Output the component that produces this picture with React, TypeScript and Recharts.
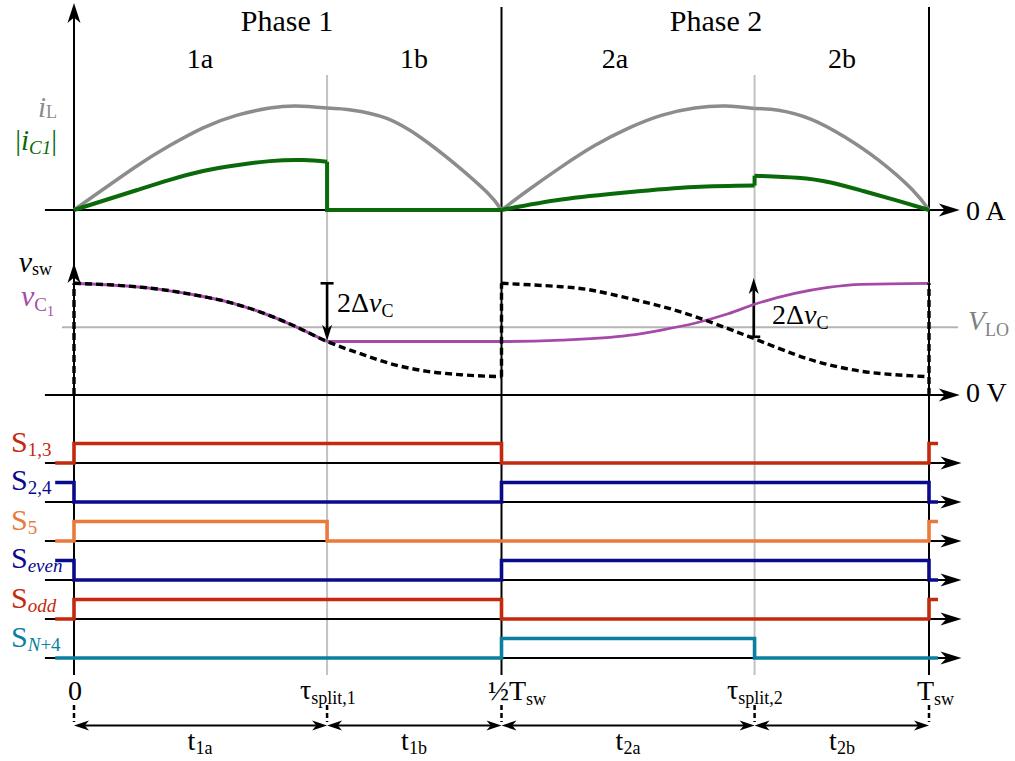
import React from 'react';
import { ComposedChart, Line, XAxis, YAxis, ReferenceLine } from 'recharts';

const W = 1015;
const H = 761;
const X0 = 74; // px of t = 0
const PX_T = 855; // px per Tsw

// time instants, as a fraction of Tsw
const T_SPLIT_1 = 0.296;
const T_HALF = 0.5;
const T_SPLIT_2 = 0.796;
const T_SW = 1;
const T_PRE = -0.022;
const T_POST = 1.0105;
const T_AX_START = -0.034;
const T_AX_END = 1.036;

// inductor current i_L (normalised to its peak)
const iL1a = [
  { t: 0, v: 0 }, { t: 0.073, v: 0.42 }, { t: 0.112, v: 0.62 }, { t: 0.151, v: 0.79 },
  { t: 0.19, v: 0.91 }, { t: 0.229, v: 0.98 }, { t: 0.26, v: 1.0 }, { t: 0.296, v: 0.98 },
];
const iL1b = [
  { t: 0.296, v: 0.98 }, { t: 0.326, v: 0.96 }, { t: 0.366, v: 0.88 }, { t: 0.405, v: 0.7 },
  { t: 0.443, v: 0.46 }, { t: 0.483, v: 0.17 }, { t: 0.5, v: 0 },
];
const iL2a = [
  { t: 0.5, v: 0 }, { t: 0.531, v: 0.19 }, { t: 0.57, v: 0.415 }, { t: 0.609, v: 0.62 },
  { t: 0.648, v: 0.785 }, { t: 0.687, v: 0.91 }, { t: 0.726, v: 0.98 }, { t: 0.762, v: 1.0 },
  { t: 0.796, v: 0.975 },
];
const iL2b = [
  { t: 0.796, v: 0.975 }, { t: 0.824, v: 0.96 }, { t: 0.863, v: 0.87 }, { t: 0.902, v: 0.7 },
  { t: 0.941, v: 0.48 }, { t: 0.98, v: 0.2 }, { t: 1.0, v: 0 },
];

// |i_C1|
const iC1a = [
  { t: 0, v: 0 }, { t: 0.073, v: 0.19 }, { t: 0.112, v: 0.29 }, { t: 0.151, v: 0.375 },
  { t: 0.19, v: 0.43 }, { t: 0.229, v: 0.47 }, { t: 0.268, v: 0.48 }, { t: 0.296, v: 0.465 },
];
const iC1b = [{ t: 0.296, v: 0.465 }, { t: 0.296, v: 0 }, { t: 0.5, v: 0 }];
const iC2a = [
  { t: 0.5, v: 0 }, { t: 0.57, v: 0.1 }, { t: 0.648, v: 0.17 }, { t: 0.726, v: 0.22 }, { t: 0.796, v: 0.235 },
];
const iC2step = [{ t: 0.796, v: 0.235 }, { t: 0.796, v: 0.33 }];
const iC2b = [
  { t: 0.796, v: 0.33 }, { t: 0.846, v: 0.31 }, { t: 0.885, v: 0.265 }, { t: 0.924, v: 0.18 },
  { t: 0.963, v: 0.09 }, { t: 1.0, v: 0 },
];

// voltages, in units of V_LO
const v1aShared = [
  { t: 0, v: 1.65 }, { t: 0.062, v: 1.61 }, { t: 0.101, v: 1.56 }, { t: 0.14, v: 1.48 },
  { t: 0.178, v: 1.38 }, { t: 0.217, v: 1.23 }, { t: 0.256, v: 1.03 }, { t: 0.296, v: 0.79 },
];
const vsw1b = [
  { t: 0.296, v: 0.79 }, { t: 0.335, v: 0.61 }, { t: 0.374, v: 0.45 }, { t: 0.413, v: 0.35 },
  { t: 0.452, v: 0.3 }, { t: 0.5, v: 0.27 },
];
const vsw2 = [
  { t: 0.5, v: 1.65 }, { t: 0.57, v: 1.6 }, { t: 0.609, v: 1.54 }, { t: 0.648, v: 1.43 },
  { t: 0.687, v: 1.31 }, { t: 0.726, v: 1.16 }, { t: 0.765, v: 0.98 }, { t: 0.796, v: 0.83 },
  { t: 0.843, v: 0.6 }, { t: 0.882, v: 0.45 }, { t: 0.921, v: 0.35 }, { t: 0.96, v: 0.3 },
  { t: 1.0, v: 0.27 },
];
const vswJump0 = [{ t: 0, v: 0 }, { t: 0, v: 1.65 }];
const vswJumpHalf = [{ t: 0.5, v: 0.27 }, { t: 0.5, v: 1.65 }];
const vswJumpSw = [{ t: 1, v: 0 }, { t: 1, v: 1.65 }];
const vC1Rest = [
  { t: 0.296, v: 0.79 }, { t: 0.5, v: 0.79 }, { t: 0.57, v: 0.81 }, { t: 0.648, v: 0.88 },
  { t: 0.687, v: 0.96 }, { t: 0.726, v: 1.06 }, { t: 0.765, v: 1.2 }, { t: 0.796, v: 1.34 },
  { t: 0.843, v: 1.5 }, { t: 0.882, v: 1.59 }, { t: 0.921, v: 1.635 }, { t: 1.0, v: 1.65 },
];
const vsw1 = [...v1aShared, ...vsw1b.slice(1)];

// gate signals (0 = off, 1 = on)
const s13 = [{ t: T_PRE, v: 0 }, { t: 0, v: 1 }, { t: T_HALF, v: 0 }, { t: T_SW, v: 1 }, { t: T_POST, v: 1 }];
const s24 = [{ t: T_PRE, v: 1 }, { t: 0, v: 0 }, { t: T_HALF, v: 1 }, { t: T_SW, v: 0 }, { t: T_POST, v: 0 }];
const s5 = [{ t: T_PRE, v: 0 }, { t: 0, v: 1 }, { t: T_SPLIT_1, v: 0 }, { t: T_SW, v: 1 }, { t: T_POST, v: 1 }];
const sEven = [{ t: T_PRE, v: 1 }, { t: 0, v: 0 }, { t: T_HALF, v: 1 }, { t: T_SW, v: 0 }, { t: T_POST, v: 0 }];
const sOdd = [{ t: T_PRE, v: 0 }, { t: 0, v: 1 }, { t: T_HALF, v: 0 }, { t: T_SW, v: 1 }, { t: T_POST, v: 1 }];
const sN4 = [{ t: T_PRE, v: 0 }, { t: T_HALF, v: 1 }, { t: T_SPLIT_2, v: 0 }, { t: T_POST, v: 0 }];

const RED = '#c4290d';
const NAVY = '#0a0a8c';
const ORANGE = '#ea7a3c';
const TEAL = '#0a7fa0';
const GREEN = '#0a6a0a';
const GRAY = '#8c8c8c';
const PURPLE = '#a64aaa';

const lanes = [
  { id: 'lane0', data: s13, color: RED, base: 463 },
  { id: 'lane1', data: s24, color: NAVY, base: 502 },
  { id: 'lane2', data: s5, color: ORANGE, base: 541 },
  { id: 'lane3', data: sEven, color: NAVY, base: 580 },
  { id: 'lane4', data: sOdd, color: RED, base: 619 },
  { id: 'lane5', data: sN4, color: TEAL, base: 658 },
];

// y domain that puts value 0 at zeroPx with pxPerUnit pixels per unit
const dom = (zeroPx: number, pxPerUnit: number): [number, number] => [-(H - zeroPx) / pxPerUnit, zeroPx / pxPerUnit];

function head(x: number, y: number, ang: number, len: number, half: number, color: string, key: string) {
  const c = Math.cos(ang), s = Math.sin(ang);
  const bx = x - c * len, by = y - s * len;
  const nx = x - c * len * 0.72, ny = y - s * len * 0.72;
  const pts = [[x, y], [bx - s * half, by + c * half], [nx, ny], [bx + s * half, by - c * half]];
  return <polygon key={key} points={pts.map((p) => p.join(',')).join(' ')} fill={color} stroke="none" />;
}

const arrowShape = (o: { start?: boolean; end?: boolean; len?: number; half?: number; bar?: number }) => (p: any) => {
  const { x1, y1, x2, y2 } = p;
  const color = p.stroke || '#000';
  const sw = p.strokeWidth || 2;
  const len = o.len ?? 20;
  const half = o.half ?? 6;
  const ang = Math.atan2(y2 - y1, x2 - x1);
  const c = Math.cos(ang), s = Math.sin(ang);
  const k = len * 0.7;
  const ax = o.start ? x1 + c * k : x1, ay = o.start ? y1 + s * k : y1;
  const bx = o.end ? x2 - c * k : x2, by = o.end ? y2 - s * k : y2;
  return (
    <g>
      <line x1={ax} y1={ay} x2={bx} y2={by} stroke={color} strokeWidth={sw} strokeDasharray={p.strokeDasharray} />
      {o.bar ? (
        <line x1={x1 - s * o.bar} y1={y1 + c * o.bar} x2={x1 + s * o.bar} y2={y1 - c * o.bar} stroke={color} strokeWidth={sw} />
      ) : null}
      {o.end ? head(x2, y2, ang, len, half, color, 'e') : null}
      {o.start ? head(x1, y1, ang + Math.PI, len, half, color, 's') : null}
    </g>
  );
};

const axisArrow = arrowShape({ end: true, len: 21, half: 6.5 });
const dimArrow = arrowShape({ start: true, end: true, len: 15, half: 5 });

const TICKS = [0, T_SPLIT_1, T_HALF, T_SPLIT_2, T_SW];
const DIMS = [
  { a: 0, b: T_SPLIT_1, label: '1a', x: 200 },
  { a: T_SPLIT_1, b: T_HALF, label: '1b', x: 414 },
  { a: T_HALF, b: T_SPLIT_2, label: '2a', x: 628 },
  { a: T_SPLIT_2, b: T_SW, label: '2b', x: 842 },
];

const FONT = '"Liberation Serif", "Times New Roman", serif';

export default function App() {
  const curve = (data: any[], yId: string, color: string, width: number, key: string, type: any = 'monotone', dash?: string) => (
    <Line
      key={key}
      data={data}
      dataKey="v"
      xAxisId="t"
      yAxisId={yId}
      type={type}
      stroke={color}
      strokeWidth={width}
      strokeDasharray={dash}
      dot={false}
      activeDot={false}
      isAnimationActive={false}
    />
  );

  const seg = (key: string, yId: string, a: [number, number], b: [number, number], color: string, width: number, shape?: any, dash?: string) => (
    <ReferenceLine
      key={key}
      xAxisId="t"
      yAxisId={yId}
      segment={[{ x: a[0], y: a[1] }, { x: b[0], y: b[1] }]}
      stroke={color}
      strokeWidth={width}
      strokeDasharray={dash}
      ifOverflow="visible"
      shape={shape}
    />
  );

  return (
    <div style={{ position: 'absolute', left: 0, top: 0, width: W, height: H, background: '#fff', fontFamily: FONT }}>
      <ComposedChart width={W} height={H} margin={{ top: 0, right: 0, bottom: 0, left: 0 }}>
        <XAxis xAxisId="t" type="number" dataKey="t" domain={[-X0 / PX_T, (W - X0) / PX_T]} allowDataOverflow hide />
        <YAxis yAxisId="px" type="number" domain={[0, H]} reversed allowDataOverflow hide />
        <YAxis yAxisId="cur" type="number" domain={dom(210, 104)} allowDataOverflow hide />
        <YAxis yAxisId="volt" type="number" domain={dom(395, 67.7)} allowDataOverflow hide />
        {lanes.map((l) => (
          <YAxis key={l.id} yAxisId={l.id} type="number" domain={dom(l.base, 19.5)} allowDataOverflow hide />
        ))}

        {/* phase boundaries */}
        {seg('split1', 'px', [T_SPLIT_1, 75], [T_SPLIT_1, 675], '#c2c2c2', 2)}
        {seg('split2', 'px', [T_SPLIT_2, 75], [T_SPLIT_2, 675], '#c2c2c2', 2)}
        {seg('v0', 'px', [0, 675], [0, 3], '#000', 2, arrowShape({ end: true, len: 20, half: 6.5 }))}
        {seg('v0b', 'px', [0, 300], [0, 263], '#000', 2, arrowShape({ end: true, len: 20, half: 6.5 }))}
        {seg('vhalf', 'px', [T_HALF, 7], [T_HALF, 675], '#000', 2)}
        {seg('vsw', 'px', [T_SW, 7], [T_SW, 675], '#000', 2)}

        {/* horizontal axes */}
        {seg('ax0A', 'cur', [T_AX_START, 0], [T_AX_END, 0], '#000', 2, axisArrow)}
        {seg('ax0V', 'volt', [T_AX_START, 0], [T_AX_END, 0], '#000', 2, axisArrow)}
        {seg('vlo', 'volt', [-0.014, 1], [T_AX_END - 0.002, 1], '#b4b4b4', 2)}
        {lanes.map((l) => seg('base' + l.id, l.id, [T_AX_START, 0], [T_AX_END + 0.002, 0], '#000', 2, axisArrow))}

        {/* time ruler below */}
        {TICKS.map((t, i) => seg('dot' + i, 'px', [t, 705], [t, 722], '#000', 2.5, undefined, '5 3'))}
        {DIMS.map((d, i) => seg('dim' + i, 'px', [d.a, 725.5], [d.b, 725.5], '#000', 1.8, dimArrow))}

        {/* 2 delta v_C markers */}
        {seg('dv1', 'volt', [T_SPLIT_1, 1.65], [T_SPLIT_1, 0.8], '#000', 2.6, arrowShape({ end: true, len: 16, half: 5, bar: 6.5 }))}
        {seg('dv2', 'volt', [T_SPLIT_2 - 0.001, 0.86], [T_SPLIT_2 - 0.001, 1.73], '#000', 2.6, arrowShape({ end: true, len: 16, half: 5, bar: 6.5 }))}

        {/* currents */}
        {curve(iL1a, 'cur', GRAY, 3.5, 'iL1a', 'natural')}
        {curve(iL1b, 'cur', GRAY, 3.5, 'iL1b', 'natural')}
        {curve(iL2a, 'cur', GRAY, 3.5, 'iL2a', 'natural')}
        {curve(iL2b, 'cur', GRAY, 3.5, 'iL2b', 'natural')}
        {curve(iC1a, 'cur', GREEN, 4, 'iC1a', 'natural')}
        {curve(iC1b, 'cur', GREEN, 4, 'iC1b', 'linear')}
        {curve(iC2a, 'cur', GREEN, 4, 'iC2a', 'natural')}
        {curve(iC2step, 'cur', GREEN, 4, 'iC2s', 'linear')}
        {curve(iC2b, 'cur', GREEN, 4, 'iC2b', 'natural')}

        {/* voltages */}
        {curve(v1aShared, 'volt', PURPLE, 3, 'vc1a', 'natural')}
        {curve(vC1Rest, 'volt', PURPLE, 2.8, 'vc1r')}
        {curve(vsw1, 'volt', '#000', 3.4, 'vsw1', 'monotone', '7 4')}
        {curve(vsw2, 'volt', '#000', 3.4, 'vsw2', 'natural', '7 4')}
        {curve(vswJump0, 'volt', '#000', 3.4, 'vj0', 'linear', '7 4')}
        {curve(vswJumpHalf, 'volt', '#000', 3.4, 'vjh', 'linear', '7 4')}
        {curve(vswJumpSw, 'volt', '#000', 3.4, 'vjs', 'linear', '7 4')}

        {/* gate signals */}
        {lanes.map((l) => curve(l.data, l.id, l.color, 3.6, 'sig' + l.id, 'stepAfter'))}
      </ComposedChart>

      <svg width={W} height={H} style={{ position: 'absolute', left: 0, top: 0, pointerEvents: 'none' }} fontFamily={FONT}>
        <text x={287} y={31} fontSize={30} textAnchor="middle">Phase 1</text>
        <text x={716} y={31} fontSize={30} textAnchor="middle">Phase 2</text>
        <text x={200} y={68} fontSize={28} textAnchor="middle">1a</text>
        <text x={414} y={68} fontSize={28} textAnchor="middle">1b</text>
        <text x={615} y={68} fontSize={28} textAnchor="middle">2a</text>
        <text x={842} y={68} fontSize={28} textAnchor="middle">2b</text>

        <text x={57} y={117} fontSize={29} textAnchor="end" fill={GRAY}>
          <tspan fontStyle="italic">i</tspan>
          <tspan fontSize={18} dy={1}>L</tspan>
        </text>
        <text x={57} y={150} fontSize={29} textAnchor="end" fill={GREEN}>
          <tspan>|</tspan>
          <tspan fontStyle="italic">i</tspan>
          <tspan fontSize={19} fontStyle="italic" dy={4}>C1</tspan>
          <tspan dy={-4}>|</tspan>
        </text>

        <text x={52} y={272} fontSize={30} textAnchor="end">
          <tspan fontStyle="italic">v</tspan>
          <tspan fontSize={18} dy={3}>sw</tspan>
        </text>
        <text x={54} y={306} fontSize={30} textAnchor="end" fill={PURPLE}>
          <tspan fontStyle="italic">v</tspan>
          <tspan fontSize={19} dy={5}>C</tspan>
          <tspan fontSize={14} dy={5}>1</tspan>
        </text>

        <text x={337} y={312} fontSize={28}>
          <tspan>2Δ</tspan>
          <tspan fontStyle="italic">v</tspan>
          <tspan fontSize={18} dy={5}>C</tspan>
        </text>
        <text x={772} y={324} fontSize={28}>
          <tspan>2Δ</tspan>
          <tspan fontStyle="italic">v</tspan>
          <tspan fontSize={18} dy={5}>C</tspan>
        </text>

        <text x={966} y={220} fontSize={28}>0 A</text>
        <text x={966} y={402} fontSize={28}>0 V</text>
        <text x={968} y={330} fontSize={28} fill="#808080">
          <tspan fontStyle="italic">V</tspan>
          <tspan fontSize={18} dy={6}>LO</tspan>
        </text>

        <text x={11} y={452} fontSize={30} fill={RED}>
          <tspan>S</tspan>
          <tspan fontSize={19} dy={4}>1,3</tspan>
        </text>
        <text x={11} y={490} fontSize={30} fill={NAVY}>
          <tspan>S</tspan>
          <tspan fontSize={19} dy={4}>2,4</tspan>
        </text>
        <text x={11} y={530} fontSize={30} fill={ORANGE}>
          <tspan>S</tspan>
          <tspan fontSize={19} dy={4}>5</tspan>
        </text>
        <text x={11} y={568} fontSize={30} fill={NAVY}>
          <tspan>S</tspan>
          <tspan fontSize={19} dy={4} fontStyle="italic">even</tspan>
        </text>
        <text x={11} y={608} fontSize={30} fill={RED}>
          <tspan>S</tspan>
          <tspan fontSize={19} dy={4} fontStyle="italic">odd</tspan>
        </text>
        <text x={11} y={647} fontSize={30} fill={TEAL}>
          <tspan>S</tspan>
          <tspan fontSize={19} dy={4} fontStyle="italic">N</tspan>
          <tspan fontSize={19}>+4</tspan>
        </text>

        <text x={75} y={700} fontSize={28} textAnchor="middle">0</text>
        <text x={300} y={699} fontSize={28}>
          <tspan>τ</tspan>
          <tspan fontSize={18} dy={5}>split,1</tspan>
        </text>
        <text x={488} y={700} fontSize={28}>
          <tspan>½T</tspan>
          <tspan fontSize={18} dy={5}>sw</tspan>
        </text>
        <text x={727} y={699} fontSize={28}>
          <tspan>τ</tspan>
          <tspan fontSize={18} dy={5}>split,2</tspan>
        </text>
        <text x={917} y={700} fontSize={28}>
          <tspan>T</tspan>
          <tspan fontSize={18} dy={5}>sw</tspan>
        </text>

        {DIMS.map((d) => (
          <text key={d.label} x={d.x} y={750} fontSize={28} textAnchor="middle">
            <tspan>t</tspan>
            <tspan fontSize={18} dy={4}>{d.label}</tspan>
          </text>
        ))}
      </svg>
    </div>
  );
}
